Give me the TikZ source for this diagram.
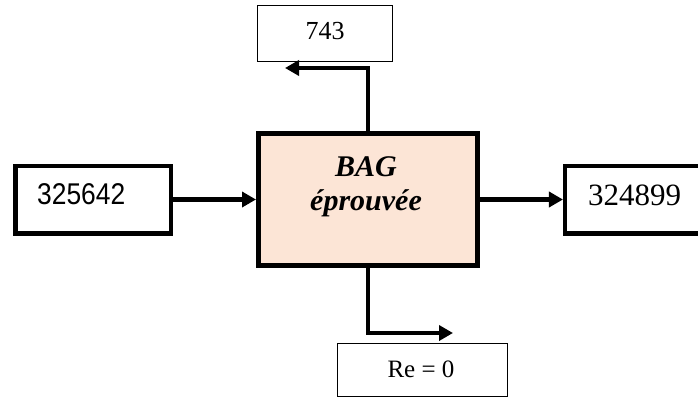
\documentclass[tikz,border=0pt]{standalone}
\usepackage{fontspec}
\setmainfont{Liberation Serif}
\newfontfamily\narrowsans[FakeStretch=0.88]{Liberation Sans}
\usetikzlibrary{arrows.meta}
\definecolor{peach}{RGB}{252,229,214}
\begin{document}
\begin{tikzpicture}[x=1pt,y=-1pt,
  heavybox/.style={draw=black,line width=4.5pt,inner sep=0pt},
  lightbox/.style={draw=black,line width=1.2pt,inner sep=0pt},
  conn/.style={line width=4.5pt,-{Triangle[length=14pt,width=15pt]}},
  lbl/.style={anchor=base,inner sep=0pt}]
\useasboundingbox (0,0) rectangle (698,399);
% boxes
\node[heavybox,line width=5pt,fill=peach,minimum width=219pt,minimum height=132pt] (main) at (368,199.5) {};
\node[heavybox,minimum width=155.5pt,minimum height=67.5pt] (left) at (93,199.5) {};
\node[heavybox,minimum width=154.75pt,minimum height=67.5pt] (right) at (642.6,199.5) {};
\node[lightbox,minimum width=134.8pt,minimum height=55.8pt] (top) at (325,33.5) {};
\node[lightbox,minimum width=169.8pt,minimum height=52.8pt] (bottom) at (422.5,370) {};
% texts
\node[lbl,font=\fontsize{26}{26}\selectfont] at (325,39.5) {743};
\node[lbl,anchor=base west,font=\narrowsans\fontsize{30}{30}\selectfont] at (37,204) {325642};
\node[lbl,anchor=base west,font=\fontsize{31}{31}\selectfont] at (588,205) {324899};
\node[lbl,font=\fontsize{30}{30}\selectfont\bfseries\itshape] at (366,176) {BAG};
\node[lbl,font=\fontsize{30}{30}\selectfont\bfseries\itshape] at (366,210) {éprouvée};
\node[lbl,font=\fontsize{25}{25}\selectfont] at (421,377) {Re = 0};
% connectors
\coordinate (topend) at (285,68);
\coordinate (botend) at (453,333);
\draw[conn] (left.east) -- (main.west);
\draw[conn] (main.east) -- (right.west);
\draw[conn] (main.north) |- (topend);
\draw[conn] (main.south) |- (botend);
\end{tikzpicture}
\end{document}
